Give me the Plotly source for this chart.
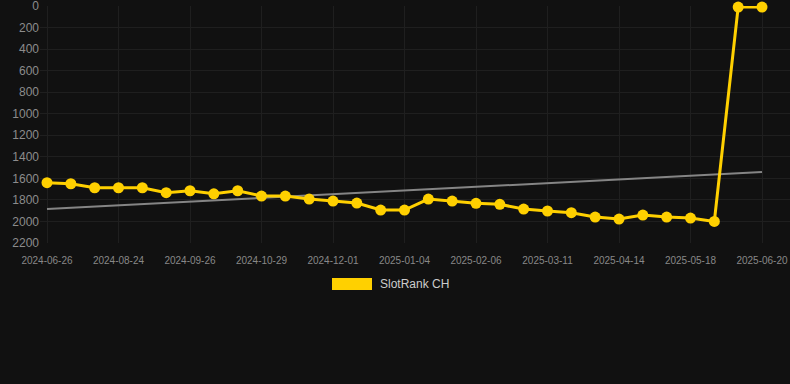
import plotly.graph_objects as go

dates = ["2024-06-26", "2024-07-15", "2024-08-05", "2024-08-24", "2024-09-04", "2024-09-15",
         "2024-09-26", "2024-10-07", "2024-10-18", "2024-10-29", "2024-11-09", "2024-11-20",
         "2024-12-01", "2024-12-12", "2024-12-23", "2025-01-04", "2025-01-15", "2025-01-26",
         "2025-02-06", "2025-02-17", "2025-02-28", "2025-03-11", "2025-03-22", "2025-04-02",
         "2025-04-14", "2025-04-25", "2025-05-06", "2025-05-18", "2025-05-29", "2025-06-09",
         "2025-06-20"]
ranks = [1640, 1650, 1687, 1687, 1687, 1733, 1715, 1743, 1715, 1764, 1764, 1792, 1811, 1829, 1894,
         1894, 1792, 1811, 1832, 1841, 1885, 1903, 1919, 1959, 1978, 1941, 1959, 1969, 2000, 10, 10]
trend_dates = ["2024-06-26", "2025-06-20"]
trend_values = [1885, 1541]
y_ticks = [0, 200, 400, 600, 800, 1000, 1200, 1400, 1600, 1800, 2000, 2200]
x_tick_labels = dates[::3]

idx = list(range(len(dates)))
pos = {d: i for i, d in enumerate(dates)}

fig = go.Figure()
fig.add_trace(go.Scatter(
    x=[pos[d] for d in trend_dates], y=trend_values, mode="lines",
    line=dict(color="#858585", width=2), hoverinfo="skip", showlegend=False,
    cliponaxis=False))
fig.add_trace(go.Scatter(
    x=idx, y=ranks, mode="lines+markers", name="SlotRank CH",
    line=dict(color="#FFD000", width=3),
    marker=dict(color="#FFD000", size=11), showlegend=False, cliponaxis=False))

W, H = 790, 384
L, R, T, B = 40, 0, 6, 141
pw, ph = W - L - R, H - T - B
step = 71.5 / 3
x0 = -(47 - L) / step
x1 = (W - R - 762) / step + 30

def px(x):
    return (x - L) / pw

def py(y):
    return (H - B - y) / ph

fig.add_shape(type="rect", xref="paper", yref="paper",
              x0=px(332), x1=px(372), y0=py(290), y1=py(278),
              fillcolor="#FFD000", line=dict(width=0))
fig.add_annotation(xref="paper", yref="paper", x=px(378), y=py(284),
                   text="SlotRank CH", showarrow=False, xanchor="left", yanchor="middle",
                   font=dict(size=12, color="#cccccc"))

fig.update_layout(
    width=W, height=H,
    margin=dict(l=L, r=R, t=T, b=B, pad=0, autoexpand=False),
    paper_bgcolor="#111111", plot_bgcolor="#111111",
    font=dict(family="Arial, Liberation Sans, sans-serif", color="#888888"),
    xaxis=dict(range=[x0, x1], tickvals=idx[::3], ticktext=x_tick_labels,
               showgrid=True, gridcolor="#1f1f1f", gridwidth=1, zeroline=False,
               ticks="outside", ticklen=8, tickcolor="rgba(0,0,0,0)",
               tickfont=dict(size=10, color="#888888"), showline=False, automargin=False,
               ticklabeloverflow="allow"),
    yaxis=dict(range=[2200, 0], tickvals=y_ticks, showgrid=True, gridcolor="#1f1f1f",
               gridwidth=1, zeroline=False, ticks="", 
               tickfont=dict(size=12, color="#8c8c8c"),
               showline=False, automargin=False, ticklabeloverflow="allow"),
)
fig.write_html("out.html", config={"displayModeBar": False},
               post_script="document.body.style.margin='0';document.body.style.background='#111111';")
